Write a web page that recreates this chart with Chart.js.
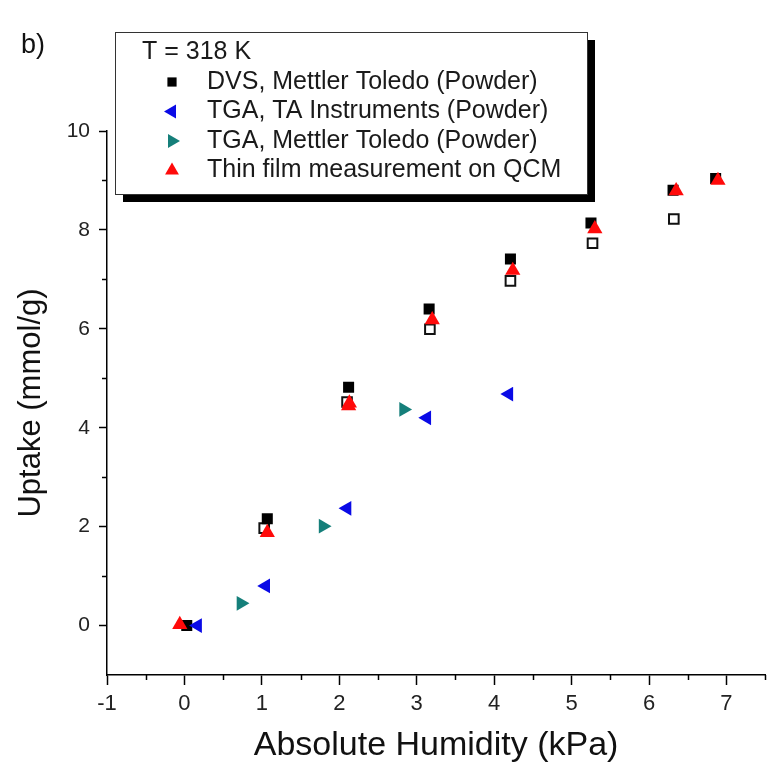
<!DOCTYPE html>
<html>
<head>
<meta charset="utf-8">
<script src="https://cdn.jsdelivr.net/npm/chart.js@4/dist/chart.umd.min.js"></script>
<style>
  html, body { margin: 0; padding: 0; background: #fff; }
  #wrap { position: relative; width: 774px; height: 775px; }
</style>
</head>
<body>
<div id="wrap"><canvas id="c"></canvas></div>
<script>
// ---- data ----
const dvsX     = [0.03, 1.07, 2.12, 3.16, 4.21, 5.25, 6.31, 6.86];
const dvsY     = [0.00, 2.16, 4.82, 6.40, 7.41, 8.14, 8.80, 9.04];
const dvsOpenX = [1.03, 2.10, 3.17, 4.21, 5.27, 6.32];
const dvsOpenY = [1.97, 4.52, 5.99, 6.97, 7.73, 8.22];
const taX      = [0.17, 1.05, 2.10, 3.13, 4.19];
const taY      = [0.00, 0.80, 2.37, 4.20, 4.68];
const mtX      = [0.73, 1.79, 2.83];
const mtY      = [0.45, 2.01, 4.37];
const qcmX     = [-0.06, 1.07, 2.12, 2.13, 3.20, 4.24, 5.30, 6.35, 6.89];
const qcmY     = [0.02, 1.88, 4.44, 4.50, 6.18, 7.18, 8.02, 8.79, 9.00];

const legendTitle = 'T = 318 K';
const seriesNames = ['DVS, Mettler Toledo (Powder)', 'TGA, TA Instruments (Powder)',
                     'TGA, Mettler Toledo (Powder)', 'Thin film measurement on QCM'];
const xTitle = 'Absolute Humidity (kPa)';
const yTitle = 'Uptake (mmol/g)';
const panelLabel = 'b)';
const xTickValues = [-1, 0, 1, 2, 3, 4, 5, 6, 7];
const yTickValues = [0, 2, 4, 6, 8, 10];

function pts(xs, ys) { return xs.map((x, i) => ({ x: x, y: ys[i] })); }

const BLUE = '#0a0ae6', TEAL = '#157f7a', RED = '#ff0a0a';

const datasets = [
  { label: seriesNames[3], data: pts(qcmX, qcmY), pointStyle: 'triangle', pointRotation: 0,
    pointRadius: 8.8, backgroundColor: RED, borderColor: RED, borderWidth: 0, order: 0 },
  { label: seriesNames[2], data: pts(mtX, mtY), pointStyle: 'triangle', pointRotation: 90,
    pointRadius: 8.5, backgroundColor: TEAL, borderColor: TEAL, borderWidth: 0, order: 1 },
  { label: seriesNames[1], data: pts(taX, taY), pointStyle: 'triangle', pointRotation: -90,
    pointRadius: 8.5, backgroundColor: BLUE, borderColor: BLUE, borderWidth: 0, order: 2 },
  { label: seriesNames[0], data: pts(dvsX, dvsY), pointStyle: 'rect', pointRotation: 0,
    pointRadius: 7.8, backgroundColor: '#000', borderColor: '#000', borderWidth: 0, order: 3 },
  { label: 'DVS desorption', data: pts(dvsOpenX, dvsOpenY), pointStyle: 'rect', pointRotation: 0,
    pointRadius: 6.8, backgroundColor: '#fff', borderColor: '#111', borderWidth: 2, order: 4 }
];

const legendItems = [
  { name: seriesNames[0], style: 'rect', rot: 0, r: 6.5, color: '#000' },
  { name: seriesNames[1], style: 'triangle', rot: -90, r: 8, color: BLUE },
  { name: seriesNames[2], style: 'triangle', rot: 90, r: 8, color: TEAL },
  { name: seriesNames[3], style: 'triangle', rot: 0, r: 8, color: RED }
];

const extrasPlugin = {
  id: 'extras',
  afterDraw(chart) {
    const ctx = chart.ctx;
    const xs = chart.scales.x, ys = chart.scales.y;
    ctx.save();
    // minor ticks
    ctx.strokeStyle = '#000';
    ctx.lineWidth = 1.5;
    const yAxisPx = ys.getPixelForValue(ys.min);
    const xAxisPx = xs.getPixelForValue(xs.min);
    for (let v = -0.5; v <= xs.max + 1e-9; v += 1) {
      const px = Math.round(xs.getPixelForValue(v)) + 0.5;
      ctx.beginPath(); ctx.moveTo(px, yAxisPx); ctx.lineTo(px, yAxisPx + 5); ctx.stroke();
    }
    for (let v = 1; v <= ys.max; v += 2) {
      const py = Math.round(ys.getPixelForValue(v)) + 0.5;
      ctx.beginPath(); ctx.moveTo(xAxisPx, py); ctx.lineTo(xAxisPx - 5, py); ctx.stroke();
    }
    // panel label
    ctx.fillStyle = '#111';
    ctx.font = '27px "Liberation Sans", Arial, sans-serif';
    ctx.textBaseline = 'middle';
    ctx.textAlign = 'left';
    ctx.fillText(panelLabel, 21, 46);
    // legend box with shadow
    const bx = 115, by = 32, bw = 472, bh = 162, sh = 8;
    ctx.fillStyle = '#000';
    ctx.fillRect(bx + sh, by + sh, bw, bh);
    ctx.fillStyle = '#fff';
    ctx.fillRect(bx, by, bw, bh);
    ctx.strokeStyle = '#333';
    ctx.lineWidth = 1;
    ctx.strokeRect(bx + 0.5, by + 0.5, bw, bh);
    ctx.fillStyle = '#1a1a1a';
    ctx.font = '25px "Liberation Sans", Arial, sans-serif';
    ctx.fillText(legendTitle, 142, 52);
    legendItems.forEach((it, i) => {
      const cy = 82 + i * 29.5;
      ctx.fillStyle = it.color;
      ctx.strokeStyle = it.color;
      Chart.helpers.drawPoint(ctx, { pointStyle: it.style, radius: it.r, rotation: it.rot, borderWidth: 0 }, 172, cy);
      ctx.fillStyle = '#1a1a1a';
      ctx.fillText(it.name, 207, cy);
    });
    ctx.restore();
  }
};

new Chart(document.getElementById('c'), {
  type: 'scatter',
  data: { datasets: datasets },
  options: {
    responsive: true,
    maintainAspectRatio: false,
    animation: false,
    layout: { padding: { top: 131, right: 0, left: 0, bottom: 0 } },
    plugins: { legend: { display: false }, tooltip: { enabled: false } },
    scales: {
      x: {
        type: 'linear', min: -1, max: 7.5,
        afterFit(scale) { scale.height = 100; },
        afterBuildTicks(scale) { scale.ticks = xTickValues.map(v => ({ value: v })); },
        ticks: { autoSkip: false, maxRotation: 0, padding: 6, color: '#222',
                 font: { family: '"Liberation Sans Narrow", "Liberation Sans", Arial', size: 22 },
                 callback: v => String(v) },
        grid: { drawOnChartArea: false, drawTicks: true, tickLength: 10, tickColor: '#000', tickWidth: 1.5 },
        border: { display: true, color: '#000', width: 1.5 },
        title: { display: true, text: xTitle, color: '#111',
                 font: { family: '"Liberation Sans", Arial', size: 34 }, padding: { top: 0, bottom: 9 } }
      },
      y: {
        type: 'linear', min: -1, max: 10,
        afterFit(scale) { scale.width = 107; },
        afterBuildTicks(scale) { scale.ticks = yTickValues.map(v => ({ value: v })); },
        ticks: { autoSkip: false, padding: 9, color: '#222',
                 font: { family: '"Liberation Sans", Arial', size: 21 },
                 callback: v => String(v) },
        grid: { drawOnChartArea: false, drawTicks: true, tickLength: 8, tickColor: '#000', tickWidth: 1.5 },
        border: { display: true, color: '#000', width: 1.5 },
        title: { display: true, text: yTitle, color: '#111',
                 font: { family: '"Liberation Sans", Arial', size: 31 }, padding: { top: 13, bottom: 0 } }
      }
    }
  },
  plugins: [extrasPlugin]
});
</script>
</body>
</html>
